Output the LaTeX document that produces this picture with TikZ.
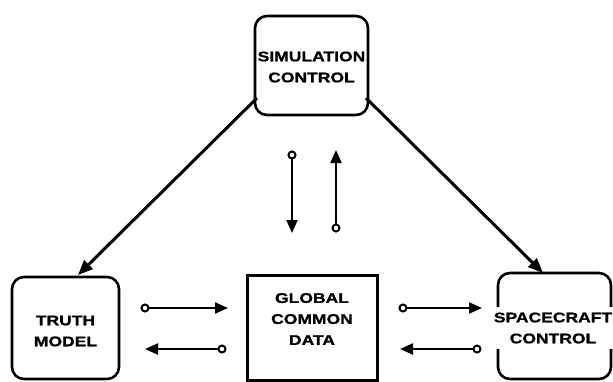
\documentclass[tikz,border=0pt]{standalone}
\usepackage{fontspec}
\newfontfamily\lbl{Liberation Sans}[FakeStretch=1.25, BoldFeatures={FakeBold=1.2}]
\usetikzlibrary{arrows.meta}
\begin{document}
\begin{tikzpicture}[x=1pt,y=-1pt,
  box/.style={draw,line width=2.6pt,rounded corners=12pt,inner sep=0pt},
  sqbox/.style={draw,line width=3pt,inner sep=0pt},
  txt/.style={font=\lbl\bfseries\fontsize{14}{21}\selectfont,align=center,inner sep=1pt},
  flow/.style={line width=2.2pt,{Circle[open,length=9pt,width=9pt,line width=2pt]}-{Triangle[length=13pt,width=11pt]}},
  main/.style={line width=3pt,-{Triangle[length=15pt,width=12pt]}}]
\useasboundingbox (0,0) rectangle (613,381);
% boxes
\node[box,minimum width=113pt,minimum height=99pt] (sim) at (311.5,65.5) {};
\node[txt,fill=white,inner ysep=5pt] (simtxt) at (311.5,67) {SIMULATION\\CONTROL};
\node[box,minimum width=107pt,minimum height=102pt] (truth) at (65.5,328) {};
\node[txt] (truthtxt) at (65.5,331) {TRUTH\\MODEL};
\node[sqbox,minimum width=130pt,minimum height=105pt] (gcd) at (312,327.5) {};
\node[txt] (gcdtxt) at (312,319) {GLOBAL\\COMMON\\DATA};
\node[box,minimum width=113pt,minimum height=106pt] (sc) at (554.5,326) {};
\node[txt,fill=white,inner ysep=6pt] (sctxt) at (553,328) {SPACECRAFT\\CONTROL};
% coordinates
\coordinate (s1) at (257,98);
\coordinate (t1) at (78,275);
\coordinate (s2) at (366,98);
\coordinate (t2) at (543,273);
\coordinate (v1a) at (292,150.5);
\coordinate (v1b) at (292,233);
\coordinate (v2a) at (336,232.5);
\coordinate (v2b) at (336,150);
\coordinate (l1a) at (140.5,308);
\coordinate (l1b) at (228,308);
\coordinate (l2a) at (226.5,349);
\coordinate (l2b) at (145,349);
\coordinate (r1a) at (398.5,308);
\coordinate (r1b) at (482,308);
\coordinate (r2a) at (481.5,349);
\coordinate (r2b) at (400,349);
% connectors
\draw[main] (s1) -- (t1);
\draw[main] (s2) -- (t2);
\draw[flow] (v1a) -- (v1b);
\draw[flow] (v2a) -- (v2b);
\draw[flow] (l1a) -- (l1b);
\draw[flow] (l2a) -- (l2b);
\draw[flow] (r1a) -- (r1b);
\draw[flow] (r2a) -- (r2b);
\end{tikzpicture}
\end{document}
